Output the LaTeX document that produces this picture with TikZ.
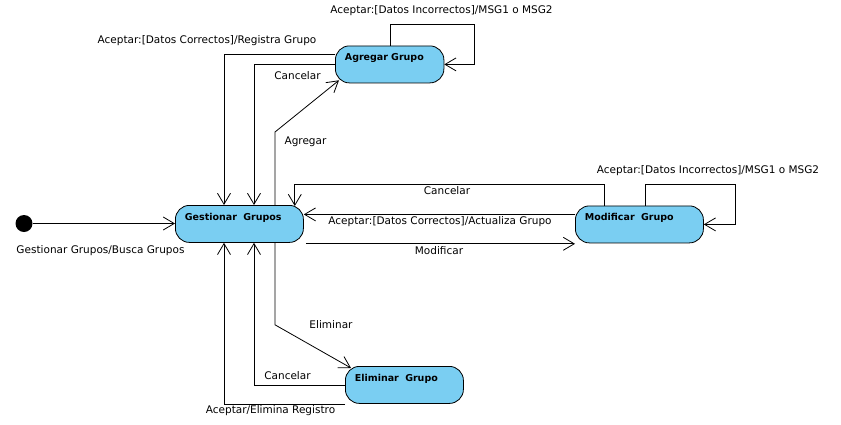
\documentclass[tikz,border=0pt]{standalone}
\usepackage{fontspec}
\setmainfont{DejaVu Sans}
\usetikzlibrary{arrows.meta,calc}
\definecolor{stfill}{RGB}{122,206,242}
\begin{document}
\begin{tikzpicture}[x=1pt,y=-1pt,
  st/.style={draw=black, line width=0.8pt, fill=stfill, rounded corners=14pt,
    inner xsep=9.5pt, inner ysep=0pt, text height=15pt, text depth=22pt,
    align=left, font=\fontsize{9.5}{11}\selectfont\bfseries, anchor=north west},
  arr/.style={line width=0.8pt, -{Straight Barb[length=11pt,width=13pt]}},
  lbl/.style={font=\fontsize{10.5}{12}\selectfont, inner sep=0pt}]
\useasboundingbox[fill=white] (0,0) rectangle (841,424);

% states
\node[st, text width=109pt] (G) at (175,205) {Gestionar\ \ Grupos};
\node[st, text width=89.5pt] (A) at (335,45.5) {Agregar Grupo};
\node[st, text width=109pt] (M) at (575,205.5) {Modificar\ \ Grupo};
\node[st, text width=99pt] (E) at (345,366) {Eliminar\ \ Grupo};
\node[circle, fill=black, minimum size=17pt, inner sep=0pt] (init) at (24,223.5) {};

% transitions
\draw[arr] (init) -- (G.west |- init);
\draw[arr] ($(G.north west)+(100,0)$) -- ++(0,-73) -- ($(A.south west)+(4,-3)$);
\draw[arr] ($(A.west)+(0,-10)$) -| ($(G.north west)+(49,0)$);
\draw[arr] (A.west) -| ($(G.north west)+(79,0)$);
\draw[arr] ($(A.north)+(1,0)$) -- ++(0,-21.5) -| ($(A.east)+(30.5,0)$) -- (A.east);
\draw[arr] ($(M.north west)+(29,0)$) -- ++(0,-21.5) -| ($(G.north east)+(-9,1)$);
\draw[arr] ($(M.west)+(0,-10)$) coordinate (m7) -- (G.east |- m7);
\draw[arr] ($(G.south east)+(2,1)$) coordinate (g8) -- (M.south west |- g8);
\draw[arr] ($(M.north)+(6,0)$) -- ++(0,-21.5) -| ($(M.east)+(32,0)$) -- (M.east);
\draw[arr] ($(G.south west)+(100,0)$) -- ++(0,82) -- ($(E.north west)+(6,2)$);
\draw[arr] (E.west) -| ($(G.south west)+(79,0)$);
\draw[arr] ($(E.south west)+(0,1)$) -| ($(G.south west)+(49,0)$);

% labels
\node[lbl] (linit) at (100.5,251) {Gestionar Grupos/Busca Grupos};
\node[lbl] (lreg) at (207,41) {Aceptar:[Datos Correctos]/Registra Grupo};
\node[lbl] (linc1) at (441.5,11) {Aceptar:[Datos Incorrectos]/MSG1 o MSG2};
\node[lbl] (lcan1) at (297.5,76) {Cancelar};
\node[lbl] (lagr) at (305.5,141.5) {Agregar};
\node[lbl] (lcan2) at (447,191) {Cancelar};
\node[lbl] (linc2) at (708,171) {Aceptar:[Datos Incorrectos]/MSG1 o MSG2};
\node[lbl] (lact) at (440,222) {Aceptar:[Datos Correctos]/Actualiza Grupo};
\node[lbl] (lmod) at (439,251) {Modificar};
\node[lbl] (leli) at (331,325) {Eliminar};
\node[lbl] (lcan3) at (287.5,376) {Cancelar};
\node[lbl] (lel2) at (270.5,411) {Aceptar/Elimina Registro};
\end{tikzpicture}
\end{document}
